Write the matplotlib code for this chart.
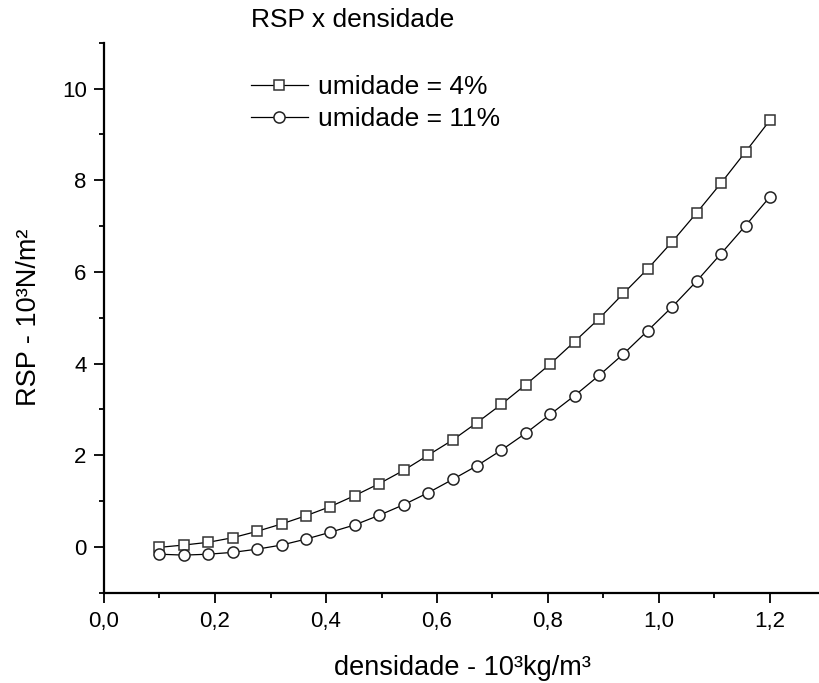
import matplotlib
matplotlib.use("Agg")
import matplotlib.pyplot as plt
from matplotlib.ticker import MultipleLocator, FormatStrFormatter

plt.rcParams['font.family'] = ['Liberation Sans', 'DejaVu Sans']

# densidade (10^3 kg/m^3)
densidade = [0.100, 0.144, 0.188, 0.232, 0.276, 0.320, 0.364, 0.408, 0.452,
             0.496, 0.540, 0.584, 0.628, 0.672, 0.716, 0.760, 0.804, 0.848,
             0.892, 0.936, 0.980, 1.024, 1.068, 1.112, 1.156, 1.200]
# RSP (10^3 N/m^2)
rsp_4 = [-0.01, 0.04, 0.10, 0.20, 0.34, 0.50, 0.68, 0.88, 1.12, 1.38, 1.67,
         2.00, 2.33, 2.71, 3.11, 3.54, 3.99, 4.48, 4.98, 5.53, 6.07, 6.66,
         7.29, 7.94, 8.62, 9.31]
rsp_11 = [-0.16, -0.18, -0.16, -0.12, -0.05, 0.04, 0.17, 0.32, 0.48, 0.69,
          0.92, 1.18, 1.47, 1.77, 2.11, 2.48, 2.89, 3.30, 3.74, 4.21, 4.72,
          5.24, 5.80, 6.40, 7.01, 7.64]
labels = ['umidade = 4%', 'umidade = 11%']

fig = plt.figure(figsize=(8.2, 6.83), dpi=100)
ax = fig.add_axes([104/820, 1 - 592.7/683, 1 - 104/820, (592.7 - 42.7)/683])

ax.plot(densidade, rsp_4, color='black', lw=0.9, marker='s', ms=7.5,
        mfc='white', mec='#333333', mew=1.1, label=labels[0])
ax.plot(densidade, rsp_11, color='black', lw=0.9, marker='o', ms=8,
        mfc='white', mec='#222222', mew=1.1, label=labels[1])

ax.set_xlim(0, 716/555)
ax.set_ylim(-1, 11)
ax.xaxis.set_major_locator(MultipleLocator(0.2))
ax.xaxis.set_minor_locator(MultipleLocator(0.1))
ax.yaxis.set_major_locator(MultipleLocator(2))
ax.yaxis.set_minor_locator(MultipleLocator(1))
ax.xaxis.set_major_formatter(lambda v, p: f'{v:.1f}'.replace('.', ','))
ax.yaxis.set_major_formatter(FormatStrFormatter('%d'))

ax.spines['top'].set_visible(False)
ax.spines['right'].set_visible(False)
ax.spines['left'].set_linewidth(1.6)
ax.spines['bottom'].set_linewidth(1.6)
ax.tick_params(which='major', direction='out', length=7.5, width=1.3,
               labelsize=16)
ax.tick_params(axis='x', which='major', pad=6)
ax.tick_params(axis='y', which='major', pad=5)
ax.tick_params(which='minor', direction='out', length=3.5, width=1.3)

ax.set_xlabel('densidade - 10³kg/m³', fontsize=19.5, labelpad=16)
ax.set_ylabel('RSP - 10³N/m²', fontsize=19.5, labelpad=14)

fig.text(353/820, 1 - 20/683, 'RSP x densidade', ha='center', va='center',
         fontsize=19)

ax.legend(loc='upper left', bbox_to_anchor=(251/820, 1 - 75/683),
          bbox_transform=fig.transFigure, frameon=False, fontsize=19,
          handlelength=2.15, handletextpad=0.38, labelspacing=0.3,
          borderpad=0, borderaxespad=0)

fig.savefig('out.png', dpi=100)
